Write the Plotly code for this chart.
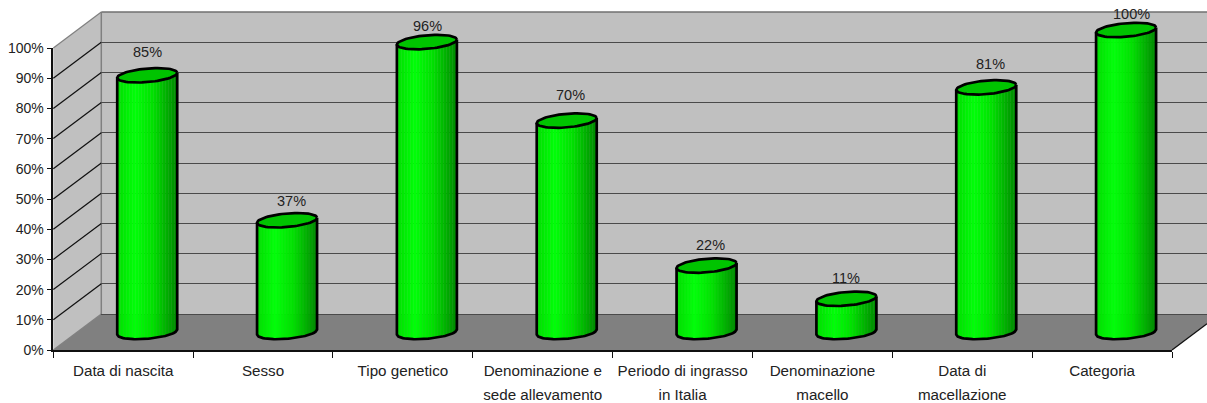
import numpy as np
import plotly.graph_objects as go

CATEGORIES = ["Data di nascita", "Sesso", "Tipo genetico", "Denominazione e<br>sede allevamento",
              "Periodo di ingrasso<br>in Italia", "Denominazione<br>macello", "Data di<br>macellazione", "Categoria"]
VALUES = [85, 37, 96, 70, 22, 11, 81, 100]
LABELS = ["85%", "37%", "96%", "70%", "22%", "11%", "81%", "100%"]
Y_TICKS = list(range(0, 101, 10))

# layout (pixels)
W, H = 1207, 403
FX0, FX1 = 53.3, 1172.0   # front edge
FY0, FY100 = 350.0, 48.0  # front 0% / 100%
DX, DY = 48.0, 36.0       # depth of the box
LABEL_DX = [0, 4, 1, 4, 4, 0, 4, 5]
LABEL_LIFT = [23, 19, 16, 26, 21, 21, 23, 16]
UNIT_X = (FX1 - FX0) / 8
UNIT_Y = (FY0 - FY100) / 100
RADIUS = 30 / UNIT_X
MINOR = 6.8 / UNIT_Y
TILT = 2.5 / UNIT_Y
STOPS = [(0, (0, 222, 0)), (0.3, (0, 255, 8)), (0.6, (0, 224, 0)), (1, (0, 135, 0))]
N_STRIPS = 40
X_LABEL_PX = 15.2


def px(x):
    return x / W


def py(y):
    return 1 - y / H


def axis_box(ox, oy, left, right, top, bottom):
    """domains and ranges for an axis pair whose origin is shifted into the box by (ox, oy)"""
    x_range = [(left - FX0 - ox) / UNIT_X - 0.5, (right - FX0 - ox) / UNIT_X - 0.5]
    y_range = [(FY0 - oy - bottom) / UNIT_Y, (FY0 - oy - top) / UNIT_Y]
    return dict(domain=[px(left), px(right)], range=x_range), dict(domain=[py(bottom), py(top)], range=y_range)


def shade(f):
    pos = [s[0] for s in STOPS]
    rgb = [int(round(np.interp(f, pos, [s[1][c] for s in STOPS]))) for c in range(3)]
    return f"rgb({rgb[0]},{rgb[1]},{rgb[2]})"


def styled(label):
    return "<br>".join(f'<span style="font-size:{X_LABEL_PX}px">{part}</span>' for part in label.split("<br>"))


fig = go.Figure()

# strips of the cylinder bodies, one trace per shade
edges = np.linspace(-1, 1, N_STRIPS + 1)
for k in range(N_STRIPS):
    a, b = edges[k], min(edges[k + 1] + 0.012, 1)
    xs, ys = [], []
    for i, v in enumerate(VALUES):
        us = np.linspace(a, b, 4)
        front = -MINOR * np.sqrt(np.clip(1 - us ** 2, 0, 1))
        xs += list(i + RADIUS * us) + list(i + RADIUS * us[::-1]) + [None]
        ys += list(TILT * us + front) + list(v + TILT * us[::-1]) + [None]
    fig.add_trace(go.Scatter(x=xs, y=ys, mode="lines", fill="toself", fillcolor=shade((k + 0.5) / N_STRIPS),
                             line=dict(width=0), xaxis="x2", yaxis="y2", hoverinfo="skip", showlegend=False))

# outlines and tops
t = np.linspace(0, 2 * np.pi, 73)
for i, v in enumerate(VALUES):
    arc = np.linspace(-1, 1, 41)
    xs = [i - RADIUS] + list(i + RADIUS * arc) + [i + RADIUS]
    ys = [v - TILT] + list(TILT * arc - MINOR * np.sqrt(1 - arc ** 2)) + [v + TILT]
    fig.add_trace(go.Scatter(x=xs, y=ys, mode="lines", line=dict(color="black", width=2.7),
                             xaxis="x2", yaxis="y2", hoverinfo="skip", showlegend=False))
    fig.add_trace(go.Scatter(x=i + RADIUS * np.cos(t), y=v + TILT * np.cos(t) + MINOR * np.sin(t), mode="lines",
                             fill="toself", fillcolor="#00c400", line=dict(color="black", width=2.7),
                             xaxis="x2", yaxis="y2", hoverinfo="skip", showlegend=False))

# invisible traces that carry the axes
fig.add_trace(go.Bar(x=[styled(c) for c in CATEGORIES], y=VALUES, opacity=0, xaxis="x3", yaxis="y3",
                     hoverinfo="skip", showlegend=False))
fig.add_trace(go.Scatter(x=[0], y=[0], mode="markers", opacity=0, xaxis="x", yaxis="y", hoverinfo="skip", showlegend=False))

# walls
shapes = [
    dict(type="path", xref="paper", yref="paper", layer="below", fillcolor="#c0c0c0", line=dict(width=0),
         path=f"M{px(FX0+DX)},{py(FY100-DY)} L1,{py(FY100-DY)} L1,{py(FY0-DY)} L{px(FX0+DX)},{py(FY0-DY)} Z"),
    dict(type="path", xref="paper", yref="paper", layer="below", fillcolor="#c0c0c0", line=dict(width=0),
         path=f"M{px(FX0)},{py(FY100)} L{px(FX0+DX)},{py(FY100-DY)} L{px(FX0+DX)},{py(FY0-DY)} L{px(FX0)},{py(FY0)} Z"),
    dict(type="path", xref="paper", yref="paper", layer="below", fillcolor="#808080", line=dict(width=0),
         path=f"M{px(FX0)},{py(FY0)} L{px(FX0+DX)},{py(FY0-DY)} L1,{py(FY0-DY)} L1,{py(FY0-(W-FX1)*DY/DX)} L{px(FX1)},{py(FY0)} Z"),
    dict(type="line", xref="paper", yref="paper", layer="below", line=dict(color="#808080", width=1.5),
         x0=px(FX0 + DX), x1=px(FX0 + DX), y0=py(FY100 - DY), y1=py(FY0 - DY)),
    dict(type="line", xref="paper", yref="paper", layer="below", line=dict(color="#707070", width=1.5),
         x0=px(FX0 + DX), x1=1, y0=py(FY100 - DY), y1=py(FY100 - DY)),
    dict(type="line", xref="paper", yref="paper", layer="below", line=dict(color="#101010", width=1.3),
         x0=px(FX1), y0=py(FY0), x1=1, y1=py(FY0 - (W - FX1) * DY / DX)),
]
for v in Y_TICKS:
    y = FY0 - v * UNIT_Y
    edge = "#808080" if v in (0, 100) else "#101010"
    shapes.append(dict(type="line", xref="paper", yref="paper", layer="below", line=dict(color=edge, width=1.2),
                       x0=px(FX0), y0=py(y), x1=px(FX0 + DX), y1=py(y - DY)))

annotations = [dict(x=i, y=v, xref="x2", yref="y2", text=l, showarrow=False, xshift=LABEL_DX[i], yshift=LABEL_LIFT[i],
                    yanchor="middle", font=dict(family="Liberation Sans", size=14.5, color="#222222"))
               for i, (v, l) in enumerate(zip(VALUES, LABELS))]

# back wall axes: carry the gridlines
xb, yb = axis_box(DX, DY, FX0 + DX, W, FY100 - DY - 2, FY0 - DY + 2)
# middle axes: carry the cylinders
xm, ym = axis_box(DX / 2, 18, FX0, W, 4, 360)
# front axes: carry ticks and labels
xf, yf = axis_box(0, 0, FX0, FX1, FY100, FY0)

fig.update_layout(
    template="none",
    width=W, height=H, margin=dict(l=0, r=0, t=0, b=0, pad=0), autosize=False,
    paper_bgcolor="white", plot_bgcolor="rgba(0,0,0,0)", bargap=0.5,
    font=dict(family="Liberation Sans", size=14, color="#222222"),
    shapes=shapes, annotations=annotations, showlegend=False,
    xaxis=dict(**xb, visible=False, anchor="y", fixedrange=True),
    yaxis=dict(**yb, anchor="x", showgrid=True, gridcolor="#4a4a4a", gridwidth=1.4, tickvals=Y_TICKS[:-1],
               showticklabels=False, ticks="", zeroline=False, showline=False, fixedrange=True),
    xaxis2=dict(**xm, visible=False, anchor="y2", fixedrange=True),
    yaxis2=dict(**ym, visible=False, anchor="x2", fixedrange=True),
    xaxis3=dict(domain=xf["domain"], range=[-0.5, 7.5], type="category", tickson="boundaries", ticks="outside",
                ticklen=6, tickwidth=1.2, tickcolor="#101010", showline=True, linecolor="#101010", linewidth=2,
                showgrid=False, anchor="y3", tickangle=0, automargin=False, ticklabelstandoff=2,
                tickfont=dict(family="Liberation Sans", size=18.5, color="#222222"), fixedrange=True),
    yaxis3=dict(**yf, anchor="x3", tickvals=Y_TICKS, ticktext=[f"{v}%" for v in Y_TICKS], ticks="outside", ticklen=5,
                tickwidth=1.2, tickcolor="#101010", showline=True, linecolor="#101010", linewidth=1.5, showgrid=False,
                zeroline=False, tickfont=dict(family="Liberation Sans", size=14, color="#222222"), fixedrange=True),
)

fig.write_html("out.html", config=dict(displayModeBar=False), post_script="document.body.style.margin='0';")
